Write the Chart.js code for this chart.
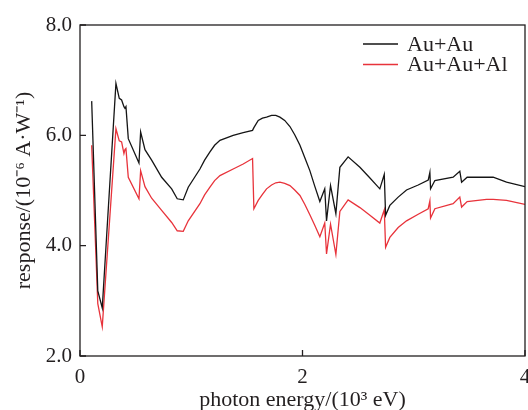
<!DOCTYPE html>
<html>
<head>
<meta charset="utf-8">
<script src="https://cdn.jsdelivr.net/npm/chart.js@4.4.1/dist/chart.umd.min.js"></script>
<style>
  html, body { margin: 0; padding: 0; background: #fff; }
  #wrap { width: 528px; height: 410px; }
</style>
</head>
<body>
<div id="wrap"><canvas id="chart"></canvas></div>
<script>
// photon energy in 10^3 eV
const energy = [0.105, 0.160, 0.200, 0.323, 0.353, 0.374, 0.395, 0.404, 0.413, 0.434, 0.530, 0.545, 0.584, 0.644, 0.734, 0.824, 0.874, 0.928, 0.973, 1.078, 1.120, 1.168, 1.210, 1.258, 1.377, 1.467, 1.551, 1.563, 1.602, 1.640, 1.677, 1.722, 1.760, 1.797, 1.840, 1.887, 1.930, 1.977, 2.020, 2.066, 2.110, 2.156, 2.200, 2.216, 2.252, 2.300, 2.336, 2.410, 2.516, 2.600, 2.695, 2.735, 2.747, 2.785, 2.860, 2.935, 3.040, 3.130, 3.145, 3.151, 3.190, 3.354, 3.414, 3.430, 3.480, 3.654, 3.714, 3.834, 4.000];
// response, 10^-6 A/W
const auAu = [6.62, 3.18, 2.87, 6.94, 6.67, 6.64, 6.52, 6.49, 6.52, 5.94, 5.50, 6.06, 5.74, 5.55, 5.24, 5.03, 4.85, 4.83, 5.06, 5.39, 5.55, 5.70, 5.82, 5.91, 6.00, 6.05, 6.09, 6.14, 6.27, 6.31, 6.33, 6.36, 6.36, 6.33, 6.27, 6.16, 6.01, 5.82, 5.60, 5.36, 5.08, 4.80, 5.03, 4.45, 5.09, 4.58, 5.42, 5.61, 5.42, 5.24, 5.03, 5.29, 4.55, 4.73, 4.88, 5.01, 5.10, 5.19, 5.33, 5.03, 5.18, 5.24, 5.35, 5.15, 5.24, 5.24, 5.24, 5.15, 5.07];
const auAuAl = [5.82, 2.95, 2.53, 6.12, 5.90, 5.88, 5.67, 5.74, 5.76, 5.24, 4.85, 5.36, 5.07, 4.86, 4.64, 4.42, 4.27, 4.26, 4.45, 4.76, 4.92, 5.06, 5.18, 5.27, 5.39, 5.48, 5.58, 4.67, 4.82, 4.93, 5.03, 5.10, 5.14, 5.15, 5.13, 5.09, 5.01, 4.91, 4.75, 4.56, 4.37, 4.16, 4.41, 3.85, 4.39, 3.84, 4.62, 4.83, 4.69, 4.56, 4.41, 4.65, 3.97, 4.15, 4.33, 4.45, 4.57, 4.67, 4.81, 4.50, 4.67, 4.76, 4.88, 4.70, 4.80, 4.84, 4.84, 4.82, 4.75];
const seriesNames = ['Au+Au', 'Au+Au+Al'];
const xTicks = [0, 2, 4];
const yTicks = [2, 4, 6, 8];

const FONT = 'Liberation Serif, Times New Roman, serif';
const INK = '#231f20';

const pts = (ys) => ys.map((y, i) => ({ x: energy[i], y }));

const frame = {
    id: 'frame',
    afterDraw(chart) {
        const { ctx, chartArea: a, scales: { x, y } } = chart;
        ctx.save();
        ctx.strokeStyle = INK;
        ctx.lineWidth = 1.3;
        ctx.strokeRect(a.left, a.top, a.right - a.left, a.bottom - a.top);
        ctx.beginPath();
        for (const v of xTicks) {
            const px = x.getPixelForValue(v);
            ctx.moveTo(px, a.bottom);
            ctx.lineTo(px, a.bottom - 6);
        }
        for (const v of yTicks) {
            const py = y.getPixelForValue(v);
            ctx.moveTo(a.left, py);
            ctx.lineTo(a.left + 6, py);
        }
        ctx.stroke();

        // legend, top right inside the frame
        ctx.font = '22px ' + FONT;
        ctx.textBaseline = 'middle';
        ctx.fillStyle = INK;
        chart.data.datasets.forEach((ds, i) => {
            const ly = 44 + i * 20.5;
            ctx.strokeStyle = ds.borderColor;
            ctx.lineWidth = 1.4;
            ctx.beginPath();
            ctx.moveTo(363, ly);
            ctx.lineTo(398, ly);
            ctx.stroke();
            ctx.fillText(ds.label, 407, ly + 1);
        });
        ctx.restore();
    },
};

new Chart(document.getElementById('chart'), {
    type: 'line',
    data: {
        datasets: [
            { label: seriesNames[0], data: pts(auAu), borderColor: '#151515', borderWidth: 1.3, pointRadius: 0, tension: 0 },
            { label: seriesNames[1], data: pts(auAuAl), borderColor: '#e8333b', borderWidth: 1.3, pointRadius: 0, tension: 0 },
        ],
    },
    options: {
        responsive: true,
        maintainAspectRatio: false,
        animation: false,
        layout: { padding: { top: 25, right: 3, left: 0, bottom: 0 } },
        plugins: { legend: { display: false }, tooltip: { enabled: false } },
        scales: {
            x: {
                type: 'linear',
                min: 0,
                max: 4,
                afterBuildTicks: (s) => { s.ticks = xTicks.map((v) => ({ value: v })); },
                afterFit: (s) => { s.height = 54; s.paddingLeft = 0; s.paddingRight = 0; },
                grid: { display: false, drawTicks: false },
                border: { display: false },
                ticks: { color: INK, font: { family: FONT, size: 21 }, padding: 9, maxRotation: 0 },
                title: { display: true, text: 'photon energy/(10³ eV)', color: INK, font: { family: FONT, size: 22 }, padding: { top: 0, bottom: -3 } },
            },
            y: {
                min: 2,
                max: 8,
                afterBuildTicks: (s) => { s.ticks = yTicks.map((v) => ({ value: v })); },
                afterFit: (s) => { s.width = 80; s.paddingTop = 0; s.paddingBottom = 0; },
                grid: { display: false, drawTicks: false },
                border: { display: false },
                ticks: { color: INK, font: { family: FONT, size: 21 }, padding: 8, callback: (v) => v.toFixed(1) },
                title: { display: true, text: 'response/(10⁻⁶ A·W⁻¹)', color: INK, font: { family: FONT, size: 22 }, padding: { top: 11, bottom: 0 } },
            },
        },
    },
    plugins: [frame],
});
</script>
</body>
</html>
